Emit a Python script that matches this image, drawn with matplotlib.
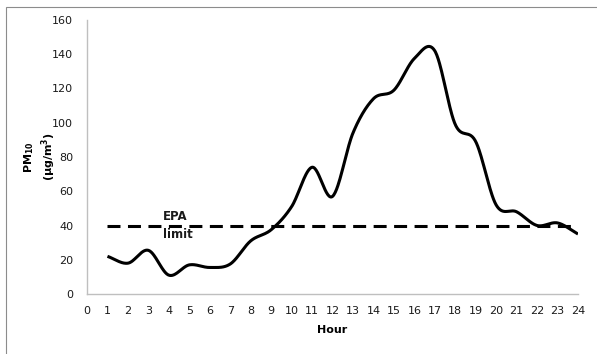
import numpy as np
import matplotlib.pyplot as plt
from matplotlib.patches import Rectangle

# ── Daten ────────────────────────────────────────────────────────────────
hours = [1, 2, 3, 4, 5, 6, 7, 8, 9, 10, 11, 12,
         13, 14, 15, 16, 17, 18, 19, 20, 21, 22, 23, 24]
pm10 = [22, 18, 25.5, 11, 17, 15.5, 17.5, 31, 37.5, 51, 74, 57,
        94, 114, 119, 137.5, 142, 99, 89, 52, 48, 40, 41.5, 35]
epa_limit = 40
x_ticks = list(range(0, 25))
y_ticks = list(range(0, 161, 20))


def smooth(x, y, n=30):
    # Catmull-Rom wie Excel "geglättete Linie"
    x = np.asarray(x, float)
    y = np.asarray(y, float)
    px = np.concatenate([[2 * x[0] - x[1]], x, [2 * x[-1] - x[-2]]])
    py = np.concatenate([[2 * y[0] - y[1]], y, [2 * y[-1] - y[-2]]])
    xs, ys = [], []
    t = np.linspace(0, 1, n, endpoint=False)
    for i in range(1, len(px) - 2):
        for p, out in ((px, xs), (py, ys)):
            p0, p1, p2, p3 = p[i - 1], p[i], p[i + 1], p[i + 2]
            out.extend(0.5 * (2 * p1 + (-p0 + p2) * t
                              + (2 * p0 - 5 * p1 + 4 * p2 - p3) * t ** 2
                              + (-p0 + 3 * p1 - 3 * p2 + p3) * t ** 3))
    xs.append(x[-1])
    ys.append(y[-1])
    return np.array(xs), np.array(ys)


fig = plt.figure(figsize=(5.97, 3.54), dpi=100)
ax = fig.add_axes([87 / 597, 1 - 294 / 354, (578 - 87) / 597, (294 - 20) / 354])

# Rahmen des Diagrammbereichs
fig.patches.append(Rectangle((6 / 597, -0.1), 1.2, 1 - 7 / 354 + 0.1,
                             transform=fig.transFigure, fill=False,
                             edgecolor="#8c8c8c", linewidth=0.8))

ax.plot([hours[0], hours[-1]], [epa_limit, epa_limit], color="black",
        linewidth=2.2, dashes=(4.25, 2.45))
sx, sy = smooth(hours, pm10)
ax.plot(sx, sy, color="black", linewidth=2.2, solid_capstyle="butt")

ax.text(3.72, epa_limit, "EPA\nlimit", fontsize=8.5, fontweight="bold",
        ha="left", va="center", linespacing=1.5, color="#1a1a1a")

ax.set_xlim(0, 24)
ax.set_ylim(0, 160)
ax.set_xticks(x_ticks)
ax.set_yticks(y_ticks)
ax.tick_params(length=0, labelsize=8, colors="#1a1a1a", pad=9)
ax.tick_params(axis="y", pad=10)
for s in ["top", "right"]:
    ax.spines[s].set_visible(False)
for s in ["left", "bottom"]:
    ax.spines[s].set_color("#bfbfbf")
    ax.spines[s].set_linewidth(1.0)

ax.set_xlabel("Hour", fontsize=8, fontweight="bold", labelpad=6)
fig.text(40 / 597, 1 - 157 / 354, "PM$_\\mathbf{10}$\n(\u00b5g/m$^\\mathbf{3}$)",
         rotation=90, fontsize=8, fontweight="bold", ha="center", va="center",
         multialignment="center")

fig.savefig("out.png", dpi=100)
